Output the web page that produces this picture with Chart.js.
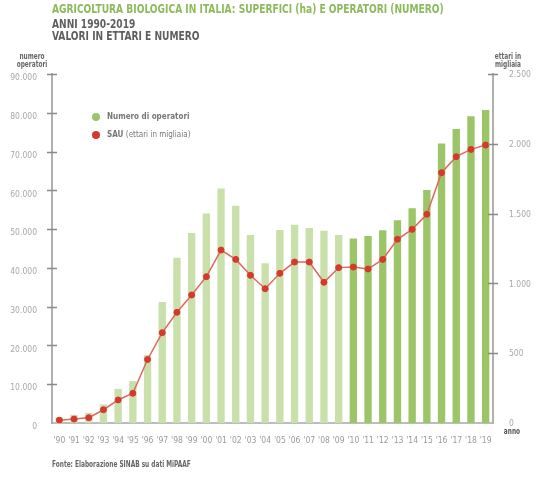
<!DOCTYPE html>
<html>
<head>
<meta charset="utf-8">
<script src="https://cdn.jsdelivr.net/npm/chart.js@4.4.1/dist/chart.umd.min.js"></script>
<style>
  html, body { margin: 0; padding: 0; background: #fff; }
  body { width: 557px; height: 489px; position: relative; overflow: hidden;
         font-family: "Liberation Sans Narrow", "DejaVu Sans Condensed", "Liberation Sans", sans-serif; }
  #wrap { position: absolute; left: 0; top: 0; width: 557px; height: 489px; }
  .t { position: absolute; white-space: nowrap; font-weight: bold; transform-origin: left top; transform: scaleX(0.81); }
  .title1 { left: 52px; top: 1px; font-size: 12.5px; color: #8cba5c; }
  .title2 { left: 52px; top: 16px; font-size: 12.5px; color: #5e5e5e; }
  .title3 { left: 52px; top: 28px; font-size: 12.5px; color: #5e5e5e; }
  .ax { font-size: 8px; color: #666; text-align: center; line-height: 8px; transform-origin: center top; }
  .leg { font-size: 8px; color: #777; transform: none; }
  .leg span.n { font-weight: normal; }
  .dot { position: absolute; width: 8px; height: 8px; border-radius: 50%; }
  .src { left: 52px; top: 460px; font-size: 8px; color: #666; }
</style>
</head>
<body>
<div id="wrap"><canvas id="myChart" width="557" height="489"></canvas></div>

<div class="t title1">AGRICOLTURA BIOLOGICA IN ITALIA: SUPERFICI (ha) E OPERATORI (NUMERO)</div>
<div class="t title2">ANNI 1990-2019</div>
<div class="t title3">VALORI IN ETTARI E NUMERO</div>

<div class="t ax" style="left:11px; top:53px; width:42px;">numero<br>operatori</div>
<div class="t ax" style="left:487px; top:53px; width:42px;">ettari in<br>migliaia</div>
<div class="t ax" style="left:497px; top:428px; width:30px; color:#555;">anno</div>

<div class="dot" style="left:92px; top:113px; background:#9bc567;"></div>
<div class="t leg" style="left:107px; top:112px;">Numero di operatori</div>
<div class="dot" style="left:92px; top:131px; background:#d5392d;"></div>
<div class="t leg" style="left:107px; top:130px;">SAU <span class="n">(ettari in migliaia)</span></div>

<div class="t src">Fonte: Elaborazione SINAB su dati MiPAAF</div>

<script>
var years = [1990, 1991, 1992, 1993, 1994, 1995, 1996, 1997, 1998, 1999,
             2000, 2001, 2002, 2003, 2004, 2005, 2006, 2007, 2008, 2009,
             2010, 2011, 2012, 2013, 2014, 2015, 2016, 2017, 2018, 2019];
var yearLabels = ["'90", "'91", "'92", "'93", "'94", "'95", "'96", "'97", "'98", "'99",
                  "'00", "'01", "'02", "'03", "'04", "'05", "'06", "'07", "'08", "'09",
                  "'10", "'11", "'12", "'13", "'14", "'15", "'16", "'17", "'18", "'19"];

// numero di operatori (asse sinistro)
var operatori = [1500, 2100, 2600, 4800, 8800, 10800, 17500, 31200, 42600, 49000,
                 54000, 60500, 56000, 48500, 41200, 49800, 51100, 50300, 49600, 48500,
                 47600, 48200, 49700, 52300, 55400, 60100, 72100, 75800, 79100, 80700];

// SAU in migliaia di ettari (asse destro)
var sau = [20, 28, 38, 95, 165, 213, 455, 647, 793, 917,
           1048, 1239, 1172, 1058, 962, 1072, 1153, 1153, 1008, 1113,
           1117, 1103, 1172, 1316, 1387, 1495, 1793, 1908, 1960, 1991];

var leftTicks = [0, 10000, 20000, 30000, 40000, 50000, 60000, 70000, 80000, 90000];
var rightTicks = [0, 500, 1000, 1500, 2000, 2500];

var barColors = years.map(function (y) { return y >= 2010 ? '#9bc567' : '#c9e0aa'; });

function fmt(v) {
    return v.toString().replace(/\B(?=(\d{3})+(?!\d))/g, '.');
}

// tick marks crossing the two vertical axes
var crossTicks = {
    id: 'crossTicks',
    afterDraw: function (chart) {
        var c = chart.ctx;
        ['y', 'y1'].forEach(function (id) {
            var s = chart.scales[id];
            var ax = s.position === 'left' ? s.right : s.left;
            c.save();
            c.strokeStyle = '#8a8a8a';
            c.lineWidth = 1.5;
            s.ticks.forEach(function (t) {
                if (t.value === 0) return;
                var py = Math.round(s.getPixelForValue(t.value)) + 0.5;
                c.beginPath();
                c.moveTo(ax - 5, py);
                c.lineTo(ax + 5, py);
                c.stroke();
            });
            c.restore();
        });
    }
};

var tickFont = { family: '"Liberation Sans Narrow", "DejaVu Sans Condensed", sans-serif', size: 8.5 };

var ctx = document.getElementById('myChart').getContext('2d');
var chart = new Chart(ctx, {
    type: 'bar',
    data: {
        labels: yearLabels,
        datasets: [{
            type: 'line',
            label: 'SAU (ettari in migliaia)',
            data: sau,
            yAxisID: 'y1',
            borderColor: '#e0685b',
            borderWidth: 1.5,
            backgroundColor: '#d5392d',
            pointBackgroundColor: '#d5392d',
            pointBorderColor: '#d5392d',
            pointBorderWidth: 1,
            pointRadius: 3,
            lineTension: 0,
            order: 0
        }, {
            label: 'Numero di operatori',
            data: operatori,
            yAxisID: 'y',
            backgroundColor: barColors,
            barPercentage: 0.5,
            categoryPercentage: 1,
            order: 1
        }]
    },
    options: {
        responsive: false,
        animation: false,
        layout: { padding: { top: 74, left: 0, right: 0, bottom: 0 } },
        plugins: { legend: { display: false }, tooltip: { enabled: false } },
        scales: {
            x: {
                offset: true,
                grid: { display: false },
                border: { color: '#bdbdbd', width: 2 },
                ticks: { color: '#9a9a9a', font: tickFont, padding: 5, maxRotation: 0, autoSkip: false },
                afterFit: function (s) { s.height = 66; }
            },
            y: {
                position: 'left',
                min: 0, max: 90000,
                afterBuildTicks: function (s) { s.ticks = leftTicks.map(function (v) { return { value: v }; }); },
                grid: { display: false },
                border: { color: '#b0b0b0', width: 2 },
                ticks: { color: '#a8a8a8', font: tickFont, padding: 7, labelOffset: 4,
                         callback: function (v) { return fmt(v); } },
                afterFit: function (s) { s.width = 52; }
            },
            y1: {
                position: 'right',
                min: 0, max: 2500,
                afterBuildTicks: function (s) { s.ticks = rightTicks.map(function (v) { return { value: v }; }); },
                grid: { display: false },
                border: { color: '#b0b0b0', width: 2 },
                ticks: { color: '#a8a8a8', font: tickFont, padding: 8, labelOffset: 1,
                         callback: function (v) { return fmt(v); } },
                afterFit: function (s) { s.width = 64; }
            }
        }
    },
    plugins: [crossTicks]
});
</script>
</body>
</html>
